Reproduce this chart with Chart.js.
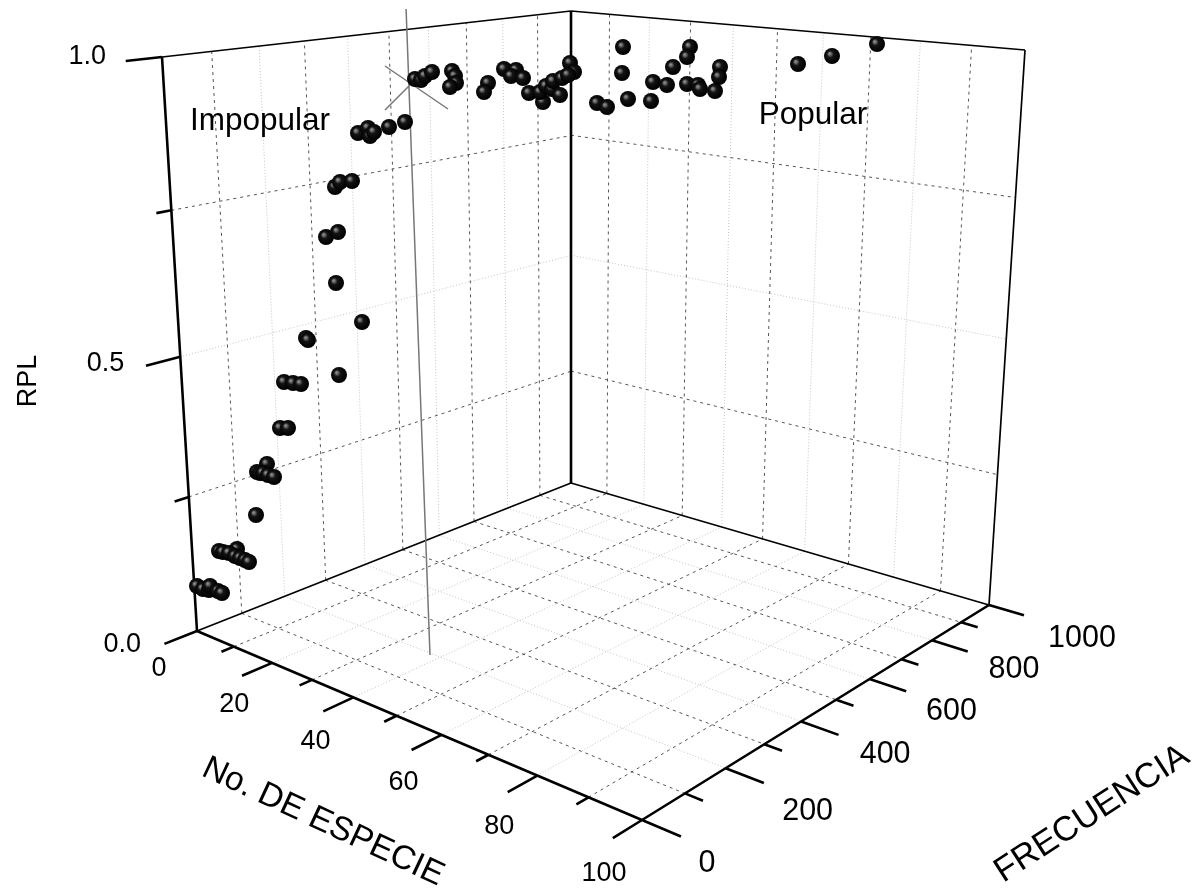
<!DOCTYPE html>
<html>
<head>
<meta charset="utf-8">
<title>RPL</title>
<script src="https://cdn.jsdelivr.net/npm/chart.js@4"></script>
<style>
    body { margin: 0; background: #fff; }
    canvas { display: block; }
</style>
</head>
<body>
<canvas id="chart" width="1202" height="894"></canvas>
<script>
// tick values of the three axes
const speciesTicks = [0, 10, 20, 30, 40, 50, 60, 70, 80, 90, 100];
const frequencyTicks = [0, 100, 200, 300, 400, 500, 600, 700, 800, 900, 1000];
const rplTicks = [0, 0.25, 0.5, 0.75, 1];
const speciesLabels = ["0", "20", "40", "60", "80", "100"];
const frequencyLabels = ["0", "200", "400", "600", "800", "1000"];
const rplLabels = ["0.0", "0.5", "1.0"];

const ballX = [197, 203, 209, 210, 218, 222,
    237, 219, 223, 229, 235, 240, 245, 249, 256,
    267, 257, 260, 263, 268, 274, 280, 288, 284, 293, 301, 339, 306, 308, 362,
    336, 326, 338, 335, 340, 352, 358, 368, 370, 374, 389, 405,
    415, 421, 425, 432, 452, 455, 456, 450, 488, 484,
    504, 516, 511, 523, 529, 543, 540, 546, 552, 553, 560, 562, 570, 574, 568,
    597, 607, 623, 622, 628, 651, 653, 667, 673,
    690, 687, 687, 698, 700, 715, 720, 719, 798, 832, 877];
const ballY = [586, 589, 590, 586, 591, 593,
    549, 551, 552, 553, 556, 558, 560, 562, 515,
    464, 472, 473, 473, 475, 477, 428, 428, 382, 383, 384, 375, 338, 340, 322,
    283, 237, 232, 187, 182, 181, 133, 128, 136, 132, 127, 122,
    79, 80, 76, 72, 71, 76, 83, 87, 83, 92,
    69, 70, 76, 78, 93, 102, 92, 86, 89, 81, 95, 78, 63, 72, 75,
    103, 107, 47, 73, 99, 101, 82, 85, 67,
    47, 57, 84, 85, 89, 91, 67, 77, 64, 56, 44];

// hand drawn marker lines of the original figure
const markerLines = [
    [[406, 7], [430, 655]],
    [[385, 66], [448, 109]],
    [[385, 110], [410, 85]]
];

// corners of the box in the view
const cornerOrigin = [197, 631];
const cornerFront = [642, 820];
const cornerBack = [571, 483];
const cornerRight = [989, 605];
const cornerOriginTop = [162, 57];
const cornerBackTop = [571, 11];
const cornerRightTop = [1025, 50];

// frequency labels do not sit at a constant distance from the axis
const frequencyLabelDx = [65, 82, 84, 82, 82, 93];
const frequencyLabelDy = [44, 43, 33, 33, 29, 34];

// chart.js keeps this margin round the plot because of the ball size
const ballRadius = 8;
const plotInset = ballRadius + 1;

function quadMap(p0, p1, p2, p3) {
    const dx1 = p1[0] - p2[0], dx2 = p3[0] - p2[0], sx = p0[0] - p1[0] + p2[0] - p3[0];
    const dy1 = p1[1] - p2[1], dy2 = p3[1] - p2[1], sy = p0[1] - p1[1] + p2[1] - p3[1];
    const den = dx1 * dy2 - dx2 * dy1;
    const g = (sx * dy2 - dx2 * sy) / den;
    const h = (dx1 * sy - sx * dy1) / den;
    const a = p1[0] - p0[0] + g * p1[0], b = p3[0] - p0[0] + h * p3[0];
    const d = p1[1] - p0[1] + g * p1[1], e = p3[1] - p0[1] + h * p3[1];
    return (s, t) => {
        const w = g * s + h * t + 1;
        return [(a * s + b * t + p0[0]) / w, (d * s + e * t + p0[1]) / w];
    };
}

const floor = quadMap(cornerOrigin, cornerFront, cornerRight, cornerBack);
const leftWall = quadMap(cornerOrigin, cornerBack, cornerBackTop, cornerOriginTop);
const rightWall = quadMap(cornerBack, cornerRight, cornerRightTop, cornerBackTop);

const toSpecies = value => value / 100;
const toFrequency = value => value / 1000;

function buildSegments(list) {
    const points = [];
    list.forEach(([from, to]) => {
        points.push({x: from[0], y: from[1]}, {x: to[0], y: to[1]}, {x: NaN, y: NaN});
    });
    return points;
}

function collectGrid(isDark) {
    const segments = [];
    const inner = i => i > 0 && i < 10 && (i % 2 === 1) === isDark;

    speciesTicks.forEach((tick, i) => {
        if (!inner(i)) return;
        const u = toSpecies(tick);
        segments.push([floor(u, 0), floor(u, 1)]);
        segments.push([rightWall(u, 0), rightWall(u, 1)]);
    });
    frequencyTicks.forEach((tick, i) => {
        if (!inner(i)) return;
        const v = toFrequency(tick);
        segments.push([floor(0, v), floor(1, v)]);
        segments.push([leftWall(v, 0), leftWall(v, 1)]);
    });
    rplTicks.forEach((tick, i) => {
        if (i === 0 || i === 4 || (i % 2 === 1) !== isDark) return;
        segments.push([leftWall(0, tick), leftWall(1, tick)]);
        segments.push([rightWall(0, tick), rightWall(1, tick)]);
    });
    return segments;
}

function collectTicks() {
    const segments = [];
    speciesTicks.forEach((tick, i) => {
        const u = toSpecies(tick);
        segments.push([floor(u, 0), floor(u, i % 2 ? -0.027 : -0.065)]);
    });
    frequencyTicks.forEach((tick, i) => {
        const v = toFrequency(tick);
        segments.push([floor(1, v), floor(i % 2 ? 1.033 : 1.07, v)]);
    });
    rplTicks.forEach((tick, i) => {
        segments.push([leftWall(0, tick), leftWall(i % 2 ? -0.03 : -0.07, tick)]);
    });
    return segments;
}

function createBallImage() {
    const size = ballRadius * 2;
    const image = document.createElement("canvas");
    image.width = size;
    image.height = size;
    const ctx = image.getContext("2d");
    const gradient = ctx.createRadialGradient(5.5, 5.5, 0.5, 7.5, 7.5, 8);
    gradient.addColorStop(0, "#8e8e8e");
    gradient.addColorStop(0.16, "#606060");
    gradient.addColorStop(0.38, "#141414");
    gradient.addColorStop(1, "#000000");
    ctx.fillStyle = gradient;
    ctx.beginPath();
    ctx.arc(size / 2, size / 2, size / 2, 0, Math.PI * 2);
    ctx.fill();
    return image;
}

function lineDataset(data, color, width, dash) {
    return {
        data: data,
        showLine: true,
        spanGaps: false,
        borderColor: color,
        borderWidth: width,
        borderDash: dash || [],
        pointRadius: 0,
        borderCapStyle: "butt"
    };
}

const textPlugin = {
    id: "boxText",
    afterDatasetsDraw(chart) {
        const {ctx, scales: {x, y}} = chart;
        const put = (text, at, font, align, angle) => {
            ctx.save();
            ctx.translate(x.getPixelForValue(at[0]), y.getPixelForValue(at[1]));
            ctx.rotate((angle || 0) * Math.PI / 180);
            ctx.font = font;
            ctx.fillStyle = "#000";
            ctx.textAlign = align || "center";
            ctx.textBaseline = "middle";
            ctx.fillText(text, 0, 0);
            ctx.restore();
        };

        speciesLabels.forEach((label, i) => {
            const p = floor(i / 5, 0);
            put(label, [p[0] - 38, p[1] + 38 + 16 * i / 5], "27px 'Liberation Sans'");
        });
        frequencyLabels.forEach((label, i) => {
            const p = floor(1, i / 5);
            put(label, [p[0] + frequencyLabelDx[i], p[1] + frequencyLabelDy[i]], "30.5px 'Liberation Sans'");
        });
        rplLabels.forEach((label, i) => {
            const p = leftWall(0, i / 2);
            put(label, [p[0] - 56, p[1] + 14 - 7 * i], "27px 'Liberation Sans'", "right");
        });

        put("RPL", [29, 381], "27px 'Liberation Sans'", "center", -90);
        put("No. DE ESPECIE", [323, 822], "33.5px 'Liberation Sans'", "center", 25);
        put("FRECUENCIA", [1092, 814], "34.5px 'Liberation Sans'", "center", -33);
        put("Impopular", [260, 121], "31.5px 'Liberation Sans'");
        put("Popular", [813, 115], "31.5px 'Liberation Sans'");
    }
};

function init() {
    const frameThick = [
        [cornerOrigin, cornerOriginTop],
        [cornerOrigin, cornerFront],
        [cornerFront, cornerRight],
        [cornerBack, cornerBackTop]
    ];
    const frameThin = [
        [cornerOrigin, cornerBack],
        [cornerBack, cornerRight],
        [cornerRight, cornerRightTop],
        [cornerOriginTop, cornerBackTop],
        [cornerBackTop, cornerRightTop]
    ];

    new Chart(document.getElementById("chart"), {
        type: "scatter",
        data: {
            datasets: [
                {
                    data: ballX.map((x, i) => ({x: x, y: ballY[i]})),
                    pointStyle: createBallImage(),
                    pointRadius: ballRadius
                },
                lineDataset(buildSegments(markerLines), "#777777", 1.5),
                lineDataset(buildSegments(frameThick), "#000000", 2.6),
                lineDataset(buildSegments(collectTicks()), "#000000", 2.6),
                lineDataset(buildSegments(frameThin), "#000000", 1.7),
                lineDataset(buildSegments(collectGrid(true)), "#555555", 1, [3, 4]),
                lineDataset(buildSegments(collectGrid(false)), "#c4c4c4", 1, [1, 2])
            ]
        },
        options: {
            responsive: false,
            animation: false,
            layout: {padding: 0},
            plugins: {legend: {display: false}, tooltip: {enabled: false}},
            scales: {
                x: {type: "linear", min: plotInset, max: 1202 - plotInset, display: false},
                y: {type: "linear", min: plotInset, max: 894 - plotInset, reverse: true, display: false}
            }
        },
        plugins: [textPlugin]
    });
}

init();
</script>
</body>
</html>
